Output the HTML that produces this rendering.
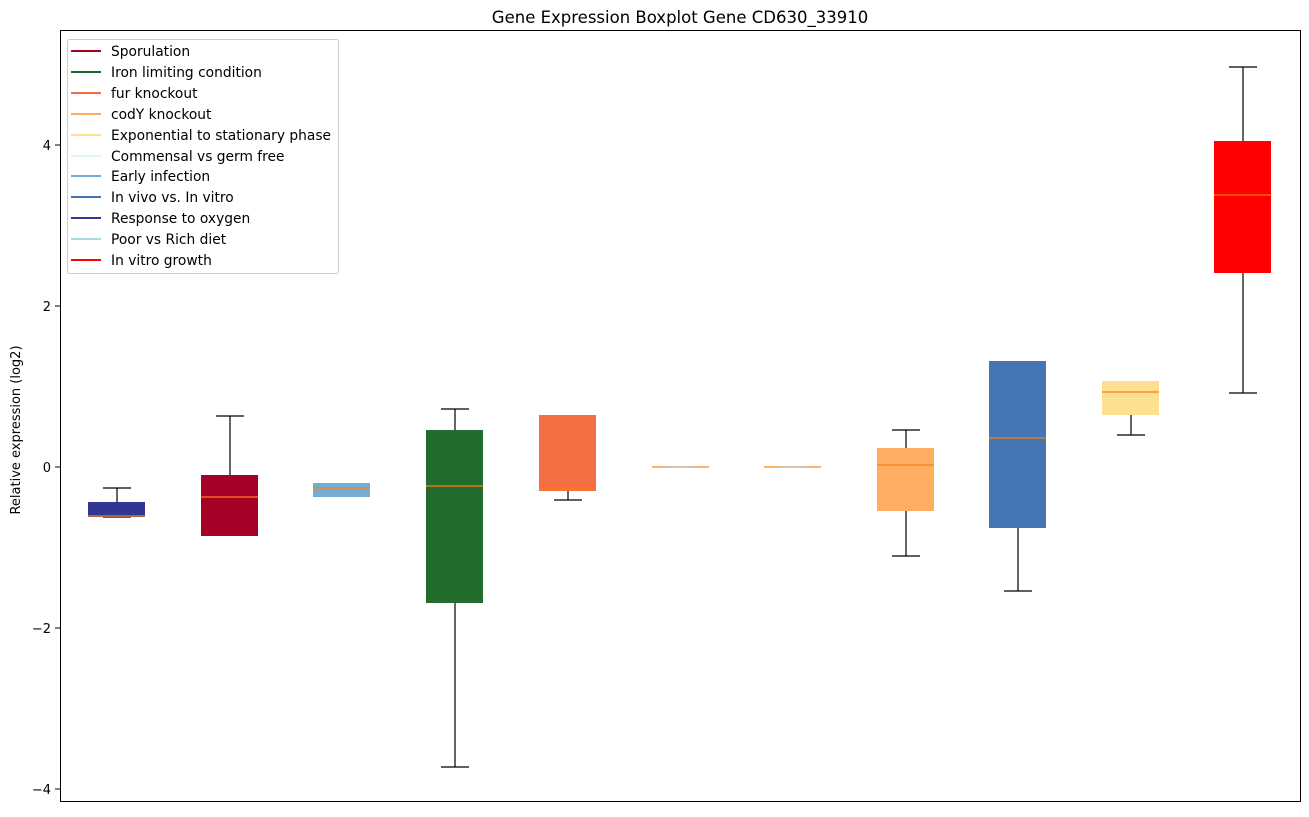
<!DOCTYPE html>
<html><head><style>body{margin:0;background:#fff}</style></head><body>
<svg width="1309" height="812" xmlns="http://www.w3.org/2000/svg" font-family="DejaVu Sans, Liberation Sans, sans-serif">
<rect width="1309" height="812" fill="#fff"/>
<text x="680" y="23" font-size="16.5" text-anchor="middle">Gene Expression Boxplot Gene CD630_33910</text>
<g stroke="#000" stroke-width="1.2">
<line x1="117" y1="488" x2="117" y2="502"/><line x1="103" y1="488" x2="131" y2="488"/><line x1="103" y1="517" x2="131" y2="517"/>
<line x1="230" y1="416" x2="230" y2="475"/><line x1="216" y1="416" x2="244" y2="416"/>
<line x1="455" y1="409" x2="455" y2="430"/><line x1="441" y1="409" x2="469" y2="409"/><line x1="455" y1="603" x2="455" y2="767"/><line x1="441" y1="767" x2="469" y2="767"/>
<line x1="568" y1="491" x2="568" y2="500"/><line x1="554" y1="500" x2="582" y2="500"/>
<line x1="906" y1="430" x2="906" y2="448"/><line x1="892" y1="430" x2="920" y2="430"/><line x1="906" y1="511" x2="906" y2="556"/><line x1="892" y1="556" x2="920" y2="556"/>
<line x1="1018" y1="528" x2="1018" y2="591"/><line x1="1004" y1="591" x2="1032" y2="591"/>
<line x1="1131" y1="415" x2="1131" y2="435"/><line x1="1117" y1="435" x2="1145" y2="435"/>
<line x1="1243" y1="67" x2="1243" y2="141"/><line x1="1229" y1="67" x2="1257" y2="67"/><line x1="1243" y1="273" x2="1243" y2="393"/><line x1="1229" y1="393" x2="1257" y2="393"/>
</g>
<g>
<rect x="88" y="502" width="57" height="15" fill="#313695"/>
<rect x="201" y="475" width="57" height="61" fill="#a50026"/>
<rect x="313" y="483" width="57" height="14" fill="#74add1"/>
<rect x="426" y="430" width="57" height="173" fill="#226d2d"/>
<rect x="539" y="415" width="57" height="76" fill="#f46d43"/>
<rect x="877" y="448" width="57" height="63" fill="#fdae61"/>
<rect x="989" y="361" width="57" height="167" fill="#4575b4"/>
<rect x="1102" y="381" width="57" height="34" fill="#fee090"/>
<rect x="1214" y="141" width="57" height="132" fill="#ff0000"/>
</g>
<g stroke="#ff7f0e" stroke-width="1.2">
<line x1="88" y1="516" x2="145" y2="516"/><line x1="201" y1="497" x2="258" y2="497"/><line x1="313" y1="488" x2="370" y2="488"/>
<line x1="426" y1="486" x2="483" y2="486"/><line x1="539" y1="489" x2="596" y2="489"/><line x1="652" y1="467" x2="709" y2="467"/>
<line x1="764" y1="467" x2="821" y2="467"/><line x1="877" y1="465" x2="934" y2="465"/><line x1="989" y1="438" x2="1046" y2="438"/>
<line x1="1102" y1="392" x2="1159" y2="392"/><line x1="1214" y1="195" x2="1271" y2="195"/>
</g>
<line x1="666" y1="467" x2="694" y2="467" stroke="#aaa" stroke-width="1"/>
<line x1="779" y1="467" x2="807" y2="467" stroke="#aaa" stroke-width="1"/>
<rect x="60.5" y="30.5" width="1240" height="771" fill="none" stroke="#000" stroke-width="1"/>
<g stroke="#000">
<line x1="55" y1="145" x2="60" y2="145"/><line x1="55" y1="306" x2="60" y2="306"/><line x1="55" y1="467" x2="60" y2="467"/><line x1="55" y1="628" x2="60" y2="628"/><line x1="55" y1="789" x2="60" y2="789"/>
</g>
<g font-size="13" text-anchor="end">
<text x="51" y="150">4</text><text x="51" y="311">2</text><text x="51" y="472">0</text><text x="51" y="633">−2</text><text x="51" y="794">−4</text>
</g>
<text transform="translate(20,430) rotate(-90)" font-size="13" text-anchor="middle">Relative expression (log2)</text>
<rect x="67.5" y="39.5" width="271" height="234" fill="#fff" stroke="#ccc" rx="2"/>
<g font-size="13.8" stroke-width="2">
<line x1="71" y1="51" x2="101" y2="51" stroke="#a50026"/><text x="111" y="56">Sporulation</text>
<line x1="71" y1="72" x2="101" y2="72" stroke="#1a6a2e"/><text x="111" y="77">Iron limiting condition</text>
<line x1="71" y1="93" x2="101" y2="93" stroke="#f46d43"/><text x="111" y="98">fur knockout</text>
<line x1="71" y1="114" x2="101" y2="114" stroke="#fdae61"/><text x="111" y="119">codY knockout</text>
<line x1="71" y1="135" x2="101" y2="135" stroke="#fee090"/><text x="111" y="140">Exponential to stationary phase</text>
<line x1="71" y1="156" x2="101" y2="156" stroke="#e0f3f8"/><text x="111" y="161">Commensal vs germ free</text>
<line x1="71" y1="176" x2="101" y2="176" stroke="#74add1"/><text x="111" y="181">Early infection</text>
<line x1="71" y1="197" x2="101" y2="197" stroke="#4575b4"/><text x="111" y="202">In vivo vs. In vitro</text>
<line x1="71" y1="218" x2="101" y2="218" stroke="#313695"/><text x="111" y="223">Response to oxygen</text>
<line x1="71" y1="239" x2="101" y2="239" stroke="#abd9e9"/><text x="111" y="244">Poor vs Rich diet</text>
<line x1="71" y1="260" x2="101" y2="260" stroke="#ff0000"/><text x="111" y="265">In vitro growth</text>
</g>
</svg>
</body></html>
